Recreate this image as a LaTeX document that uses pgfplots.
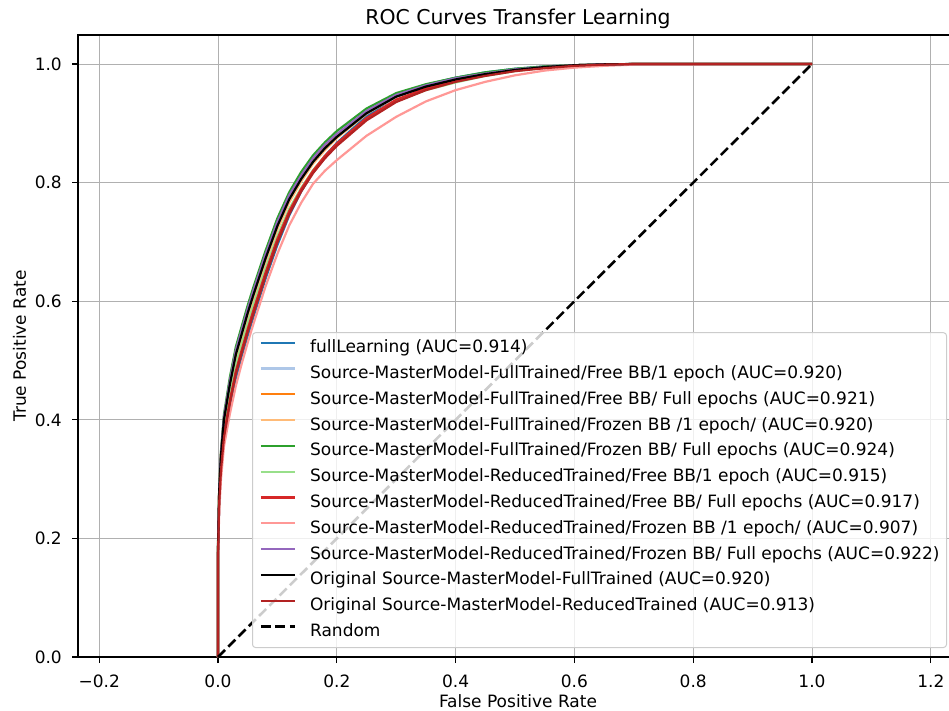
\documentclass[border=0pt]{standalone}
\usepackage{fontspec}
\setmainfont{DejaVu Sans}
\usepackage{pgfplots}
\usepackage{pgfplotstable}
\pgfplotsset{compat=1.18}
\definecolor{cA}{HTML}{1F77B4}
\definecolor{cB}{HTML}{AEC7E8}
\definecolor{cC}{HTML}{FF7F0E}
\definecolor{cD}{HTML}{FFBB78}
\definecolor{cE}{HTML}{2CA02C}
\definecolor{cF}{HTML}{98DF8A}
\definecolor{cG}{HTML}{D62728}
\definecolor{cH}{HTML}{FF9896}
\definecolor{cI}{HTML}{9467BD}
\definecolor{cK}{HTML}{B22222}
\definecolor{gridgray}{HTML}{B0B0B0}
\definecolor{leggray}{HTML}{CCCCCC}

\pgfplotstableread{
fpr full lb or lo g lg r pk pu bk dr
0 0 0 0 0 0 0 0 0 0 0 0
0 0.17 0.18 0.18 0.18 0.19 0.18 0.17 0.16 0.185 0.18 0.17
0.002 0.26 0.278 0.281 0.278 0.284 0.275 0.262 0.245 0.282 0.28 0.26
0.005 0.315 0.337 0.342 0.336 0.347 0.332 0.318 0.3 0.344 0.34 0.315
0.01 0.37 0.396 0.402 0.394 0.409 0.388 0.375 0.355 0.405 0.40 0.37
0.02 0.425 0.455 0.463 0.452 0.472 0.445 0.433 0.41 0.466 0.46 0.428
0.03 0.47 0.505 0.513 0.502 0.523 0.493 0.482 0.457 0.517 0.51 0.477
0.04 0.508 0.54 0.548 0.537 0.558 0.528 0.518 0.495 0.552 0.545 0.513
0.05 0.542 0.575 0.583 0.572 0.593 0.563 0.553 0.53 0.587 0.58 0.548
0.06 0.575 0.607 0.615 0.605 0.625 0.595 0.586 0.563 0.619 0.612 0.58
0.08 0.638 0.667 0.675 0.666 0.685 0.655 0.648 0.625 0.679 0.672 0.642
0.10 0.695 0.722 0.73 0.721 0.74 0.71 0.705 0.68 0.734 0.727 0.699
0.12 0.745 0.768 0.775 0.767 0.784 0.756 0.752 0.728 0.779 0.772 0.747
0.14 0.785 0.803 0.809 0.802 0.818 0.791 0.789 0.766 0.812 0.806 0.785
0.16 0.818 0.833 0.838 0.832 0.846 0.821 0.82 0.798 0.841 0.835 0.816
0.18 0.845 0.856 0.86 0.855 0.868 0.845 0.845 0.82 0.864 0.858 0.841
0.20 0.867 0.876 0.879 0.875 0.887 0.864 0.866 0.838 0.882 0.877 0.862
0.25 0.912 0.917 0.919 0.916 0.925 0.907 0.909 0.879 0.921 0.917 0.905
0.30 0.946 0.945 0.946 0.945 0.951 0.937 0.94 0.911 0.948 0.945 0.936
0.35 0.965 0.962 0.963 0.963 0.966 0.956 0.959 0.937 0.964 0.962 0.956
0.40 0.977 0.974 0.975 0.975 0.977 0.969 0.972 0.956 0.976 0.974 0.97
0.45 0.986 0.983 0.984 0.984 0.986 0.98 0.982 0.97 0.984 0.983 0.98
0.50 0.992 0.99 0.99 0.991 0.992 0.988 0.989 0.981 0.991 0.99 0.988
0.55 0.996 0.995 0.995 0.995 0.996 0.994 0.994 0.989 0.995 0.995 0.993
0.60 0.998 0.998 0.998 0.998 0.998 0.997 0.997 0.994 0.998 0.998 0.997
0.65 0.9995 0.9995 0.9995 0.9995 0.9997 0.999 0.999 0.997 0.9997 0.9995 0.999
0.70 1 1 1 1 1 1 1 0.999 1 1 1
1.0 1 1 1 1 1 1 1 1 1 1 1
}\roc

\begin{document}
\begin{tikzpicture}
\begin{axis}[name=ax, scale only axis, width=880pt, height=622pt,
  xmin=-0.2357, xmax=1.2458, ymin=0, ymax=1.049,
  xtick={-0.2,0,0.2,0.4,0.6,0.8,1.0,1.2},
  xticklabels={−0.2,0.0,0.2,0.4,0.6,0.8,1.0,1.2},
  ytick={0,0.2,0.4,0.6,0.8,1.0},
  yticklabels={0.0,0.2,0.4,0.6,0.8,1.0},
  tick align=outside, xtick pos=bottom, ytick pos=left,
  major tick length=6pt,
  every tick/.style={black, line width=1.2pt},
  grid=major, grid style={color=gridgray, line width=1pt},
  axis line style={black, line width=1.3pt},
  tick label style={font=\fontsize{17}{20}\selectfont},
  xticklabel style={anchor=north, inner sep=0pt, yshift=-12pt},
  yticklabel style={anchor=east, inner sep=0pt, xshift=-10pt},
  xlabel={False Positive Rate},
  ylabel={True Positive Rate},
  xlabel style={at={(axis description cs:0.5,0)}, anchor=north, inner sep=0pt, yshift=-37pt, font=\fontsize{17}{20}\selectfont},
  ylabel style={at={(axis description cs:0,0.5)}, anchor=base, inner sep=0pt, yshift=52pt, font=\fontsize{17}{20}\selectfont},
  title={ROC Curves Transfer Learning},
  title style={at={(axis description cs:0.5,1)}, anchor=base, inner sep=0pt, yshift=4pt, font=\fontsize{20.4}{24}\selectfont},
  legend cell align=left,
  legend image code/.code={\draw[#1] (0pt,5.5pt) -- (34pt,5.5pt);},
  legend style={at={(1,0)}, anchor=south east, xshift=-11pt, yshift=9pt,
    draw=leggray, line width=1pt, rounded corners=3pt, fill=white, fill opacity=0.8, text opacity=1,
    inner xsep=7pt, inner ysep=7pt, font=\fontsize{17}{20}\selectfont, row sep=8.8pt,
    nodes={inner sep=0pt, text height=13pt, text depth=4pt, anchor=west},
    /tikz/every odd column/.append style={column sep=14pt}},
]
\addplot[cA, line width=2.2pt] table[x=fpr, y=full] {\roc};
\addlegendentry{fullLearning (AUC=0.914)}
\addplot[cB, line width=2.2pt] table[x=fpr, y=lb] {\roc};
\addlegendentry{Source-MasterModel-FullTrained/Free BB/1 epoch (AUC=0.920)}
\addplot[cC, line width=2.2pt] table[x=fpr, y=or] {\roc};
\addlegendentry{Source-MasterModel-FullTrained/Free BB/ Full epochs (AUC=0.921)}
\addplot[cD, line width=2.2pt] table[x=fpr, y=lo] {\roc};
\addlegendentry{Source-MasterModel-FullTrained/Frozen BB /1 epoch/ (AUC=0.920)}
\addplot[cE, line width=2.2pt] table[x=fpr, y=g] {\roc};
\addlegendentry{Source-MasterModel-FullTrained/Frozen BB/ Full epochs (AUC=0.924)}
\addplot[cF, line width=2.2pt] table[x=fpr, y=lg] {\roc};
\addlegendentry{Source-MasterModel-ReducedTrained/Free BB/1 epoch (AUC=0.915)}
\addplot[cG, line width=2.2pt] table[x=fpr, y=r] {\roc};
\addlegendentry{Source-MasterModel-ReducedTrained/Free BB/ Full epochs (AUC=0.917)}
\addplot[cH, line width=2.2pt] table[x=fpr, y=pk] {\roc};
\addlegendentry{Source-MasterModel-ReducedTrained/Frozen BB /1 epoch/ (AUC=0.907)}
\addplot[cI, line width=2.2pt] table[x=fpr, y=pu] {\roc};
\addlegendentry{Source-MasterModel-ReducedTrained/Frozen BB/ Full epochs (AUC=0.922)}
\addplot[black, line width=2.2pt] table[x=fpr, y=bk] {\roc};
\addlegendentry{Original Source-MasterModel-FullTrained (AUC=0.920)}
\addplot[cK, line width=2.2pt] table[x=fpr, y=dr] {\roc};
\addlegendentry{Original Source-MasterModel-ReducedTrained (AUC=0.913)}
\addplot[black, line width=2.6pt, dash pattern=on 10pt off 4.5pt] coordinates {(0,0) (1,1)};
\addlegendentry{Random}
\end{axis}
\pgfresetboundingbox
\path[use as bounding box] ([shift={(-78pt,-53pt)}]ax.south west) rectangle ([shift={(-9pt,35pt)}]ax.north east);
\end{tikzpicture}
\end{document}
